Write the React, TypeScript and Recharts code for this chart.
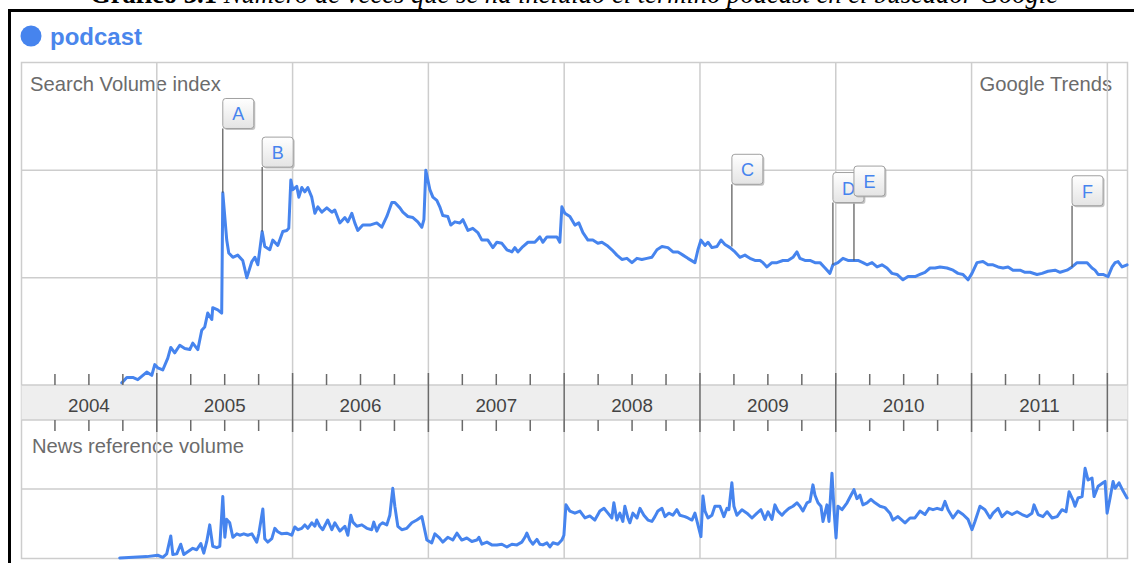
import React from 'react';
import { LineChart, Line, XAxis, YAxis, ReferenceLine, ReferenceDot } from 'recharts';

// ---------- data ----------
const yearLabels = ['2004', '2005', '2006', '2007', '2008', '2009', '2010', '2011'];
const gridYears = [2005, 2006, 2007, 2008, 2009, 2010, 2011, 2012];

const searchDates = [
  2004.742, 2004.779, 2004.823, 2004.860, 2004.926, 2004.963, 2004.985, 2005.007, 2005.044, 2005.081,
  2005.103, 2005.132, 2005.169, 2005.206, 2005.243, 2005.265, 2005.302, 2005.331, 2005.353, 2005.375,
  2005.405, 2005.412, 2005.449, 2005.478, 2005.486, 2005.515, 2005.530, 2005.560, 2005.596, 2005.633,
  2005.663, 2005.700, 2005.722, 2005.744, 2005.776, 2005.795, 2005.832, 2005.854, 2005.891, 2005.928,
  2005.957, 2005.972, 2005.987, 2006.002, 2006.031, 2006.046, 2006.068, 2006.090, 2006.112, 2006.141,
  2006.164, 2006.186, 2006.215, 2006.252, 2006.289, 2006.311, 2006.348, 2006.385, 2006.407, 2006.436,
  2006.458, 2006.480, 2006.517, 2006.569, 2006.620, 2006.657, 2006.694, 2006.731, 2006.753, 2006.790,
  2006.812, 2006.849, 2006.886, 2006.922, 2006.952, 2006.967, 2006.981, 2007.011, 2007.033, 2007.062,
  2007.084, 2007.106, 2007.143, 2007.165, 2007.195, 2007.232, 2007.254, 2007.291, 2007.327, 2007.364,
  2007.394, 2007.438, 2007.475, 2007.504, 2007.541, 2007.578, 2007.615, 2007.637, 2007.659, 2007.696,
  2007.733, 2007.784, 2007.821, 2007.843, 2007.873, 2007.909, 2007.946, 2007.968, 2007.983, 2008.005,
  2008.042, 2008.079, 2008.108, 2008.138, 2008.175, 2008.211, 2008.248, 2008.278, 2008.315, 2008.351,
  2008.388, 2008.425, 2008.462, 2008.499, 2008.536, 2008.572, 2008.609, 2008.646, 2008.683, 2008.720,
  2008.764, 2008.801, 2008.838, 2008.875, 2008.911, 2008.963, 2008.985, 2009.007, 2009.037, 2009.059,
  2009.088, 2009.125, 2009.155, 2009.184, 2009.221, 2009.258, 2009.294, 2009.331, 2009.368, 2009.405,
  2009.442, 2009.464, 2009.493, 2009.530, 2009.567, 2009.611, 2009.648, 2009.685, 2009.714, 2009.736,
  2009.773, 2009.810, 2009.847, 2009.884, 2009.921, 2009.957, 2009.979, 2010.016, 2010.053, 2010.090,
  2010.127, 2010.164, 2010.200, 2010.230, 2010.267, 2010.304, 2010.340, 2010.377, 2010.414, 2010.451,
  2010.495, 2010.532, 2010.584, 2010.620, 2010.657, 2010.694, 2010.731, 2010.768, 2010.819, 2010.864,
  2010.900, 2010.937, 2010.974, 2011.003, 2011.040, 2011.084, 2011.121, 2011.158, 2011.195, 2011.232,
  2011.269, 2011.305, 2011.357, 2011.394, 2011.431, 2011.482, 2011.519, 2011.563, 2011.615, 2011.652,
  2011.703, 2011.740, 2011.777, 2011.814, 2011.851, 2011.887, 2011.909, 2011.932, 2011.968, 2012.005,
  2012.035, 2012.057, 2012.079, 2012.108, 2012.145,
];
const searchValues = [
  0.02, 0.07, 0.07, 0.05, 0.12, 0.09, 0.19, 0.16, 0.14, 0.25,
  0.35, 0.30, 0.37, 0.34, 0.33, 0.39, 0.33, 0.51, 0.54, 0.67,
  0.61, 0.72, 0.70, 0.67, 1.79, 1.35, 1.23, 1.19, 1.21, 1.16,
  1.00, 1.15, 1.19, 1.12, 1.43, 1.29, 1.26, 1.35, 1.30, 1.43,
  1.44, 1.46, 1.91, 1.82, 1.85, 1.75, 1.84, 1.80, 1.84, 1.75,
  1.60, 1.66, 1.61, 1.65, 1.61, 1.63, 1.51, 1.56, 1.52, 1.60,
  1.51, 1.44, 1.49, 1.49, 1.51, 1.47, 1.57, 1.70, 1.70, 1.65,
  1.61, 1.57, 1.56, 1.52, 1.47, 1.54, 2.00, 1.82, 1.75, 1.72,
  1.66, 1.58, 1.57, 1.49, 1.52, 1.51, 1.54, 1.44, 1.46, 1.42,
  1.35, 1.35, 1.28, 1.33, 1.32, 1.26, 1.24, 1.28, 1.24, 1.29,
  1.33, 1.33, 1.38, 1.33, 1.38, 1.38, 1.38, 1.33, 1.66, 1.60,
  1.57, 1.49, 1.51, 1.42, 1.35, 1.35, 1.32, 1.33, 1.30, 1.26,
  1.21, 1.17, 1.18, 1.14, 1.18, 1.17, 1.18, 1.19, 1.26, 1.29,
  1.28, 1.24, 1.24, 1.21, 1.18, 1.14, 1.26, 1.35, 1.30, 1.33,
  1.28, 1.29, 1.35, 1.31, 1.28, 1.24, 1.19, 1.21, 1.18, 1.16,
  1.16, 1.14, 1.10, 1.14, 1.14, 1.16, 1.16, 1.19, 1.24, 1.18,
  1.16, 1.16, 1.14, 1.14, 1.09, 1.04, 1.12, 1.14, 1.18, 1.16,
  1.16, 1.16, 1.14, 1.12, 1.14, 1.10, 1.12, 1.09, 1.04, 1.03,
  0.98, 1.01, 1.01, 1.03, 1.05, 1.09, 1.09, 1.10, 1.09, 1.07,
  1.04, 1.03, 0.98, 1.04, 1.14, 1.15, 1.12, 1.12, 1.10, 1.09,
  1.10, 1.07, 1.07, 1.05, 1.05, 1.03, 1.04, 1.06, 1.07, 1.05,
  1.07, 1.10, 1.14, 1.14, 1.14, 1.09, 1.07, 1.03, 1.03, 1.01,
  1.10, 1.14, 1.15, 1.10, 1.12,
];

const newsDates = [
  2004.727, 2004.926, 2005.007, 2005.044, 2005.073, 2005.103, 2005.118, 2005.147, 2005.176, 2005.199,
  2005.228, 2005.265, 2005.294, 2005.324, 2005.346, 2005.368, 2005.390, 2005.412, 2005.442, 2005.464,
  2005.486, 2005.501, 2005.515, 2005.537, 2005.560, 2005.589, 2005.611, 2005.641, 2005.670, 2005.700,
  2005.736, 2005.751, 2005.781, 2005.795, 2005.817, 2005.847, 2005.869, 2005.891, 2005.920, 2005.957,
  2005.994, 2006.016, 2006.038, 2006.068, 2006.090, 2006.112, 2006.141, 2006.164, 2006.178, 2006.200,
  2006.222, 2006.259, 2006.289, 2006.311, 2006.348, 2006.385, 2006.407, 2006.429, 2006.444, 2006.473,
  2006.510, 2006.547, 2006.583, 2006.598, 2006.620, 2006.642, 2006.664, 2006.694, 2006.716, 2006.738,
  2006.753, 2006.775, 2006.804, 2006.841, 2006.878, 2006.915, 2006.952, 2006.967, 2006.989, 2007.025,
  2007.048, 2007.077, 2007.106, 2007.143, 2007.180, 2007.210, 2007.246, 2007.283, 2007.320, 2007.357,
  2007.372, 2007.394, 2007.431, 2007.467, 2007.504, 2007.541, 2007.578, 2007.615, 2007.652, 2007.688,
  2007.711, 2007.725, 2007.747, 2007.769, 2007.799, 2007.821, 2007.843, 2007.873, 2007.895, 2007.917,
  2007.954, 2007.983, 2007.998, 2008.013, 2008.042, 2008.079, 2008.116, 2008.153, 2008.189, 2008.226,
  2008.263, 2008.293, 2008.322, 2008.351, 2008.366, 2008.388, 2008.410, 2008.432, 2008.447, 2008.469,
  2008.484, 2008.506, 2008.536, 2008.558, 2008.587, 2008.617, 2008.646, 2008.668, 2008.690, 2008.720,
  2008.742, 2008.771, 2008.801, 2008.830, 2008.852, 2008.889, 2008.911, 2008.941, 2008.963, 2008.985,
  2009.007, 2009.022, 2009.037, 2009.059, 2009.088, 2009.110, 2009.147, 2009.176, 2009.199, 2009.213,
  2009.235, 2009.250, 2009.272, 2009.309, 2009.346, 2009.383, 2009.420, 2009.449, 2009.478, 2009.501,
  2009.530, 2009.552, 2009.574, 2009.604, 2009.626, 2009.655, 2009.685, 2009.714, 2009.736, 2009.758,
  2009.788, 2009.810, 2009.832, 2009.847, 2009.869, 2009.891, 2009.906, 2009.935, 2009.950, 2009.972,
  2009.987, 2010.002, 2010.016, 2010.046, 2010.083, 2010.112, 2010.134, 2010.156, 2010.178, 2010.200,
  2010.230, 2010.259, 2010.289, 2010.326, 2010.362, 2010.399, 2010.421, 2010.458, 2010.510, 2010.547,
  2010.583, 2010.620, 2010.657, 2010.687, 2010.716, 2010.746, 2010.782, 2010.804, 2010.827, 2010.863,
  2010.900, 2010.937, 2010.974, 2011.003, 2011.025, 2011.062, 2011.099, 2011.136, 2011.158, 2011.195,
  2011.224, 2011.261, 2011.298, 2011.335, 2011.372, 2011.409, 2011.445, 2011.460, 2011.490, 2011.526,
  2011.556, 2011.593, 2011.630, 2011.666, 2011.696, 2011.718, 2011.747, 2011.762, 2011.784, 2011.814,
  2011.836, 2011.858, 2011.887, 2011.902, 2011.932, 2011.968, 2011.983, 2011.998, 2012.020, 2012.042,
  2012.057, 2012.086, 2012.116, 2012.145,
];
const newsValues = [
  0.00, 0.02, 0.04, 0.01, 0.06, 0.32, 0.05, 0.06, 0.20, 0.05,
  0.09, 0.14, 0.12, 0.21, 0.07, 0.24, 0.48, 0.17, 0.15, 0.17,
  0.89, 0.30, 0.56, 0.51, 0.30, 0.35, 0.33, 0.35, 0.33, 0.35,
  0.23, 0.35, 0.71, 0.28, 0.23, 0.28, 0.43, 0.38, 0.35, 0.36,
  0.33, 0.45, 0.41, 0.43, 0.48, 0.43, 0.51, 0.46, 0.55, 0.46,
  0.41, 0.55, 0.41, 0.51, 0.39, 0.46, 0.33, 0.62, 0.52, 0.46,
  0.48, 0.43, 0.41, 0.52, 0.39, 0.48, 0.51, 0.48, 0.62, 1.01,
  0.75, 0.46, 0.41, 0.43, 0.51, 0.55, 0.60, 0.46, 0.26, 0.22,
  0.35, 0.30, 0.23, 0.30, 0.26, 0.36, 0.26, 0.29, 0.24, 0.26,
  0.30, 0.20, 0.23, 0.19, 0.19, 0.20, 0.16, 0.20, 0.19, 0.23,
  0.30, 0.36, 0.26, 0.20, 0.27, 0.20, 0.19, 0.22, 0.16, 0.22,
  0.20, 0.26, 0.33, 0.77, 0.68, 0.65, 0.68, 0.58, 0.61, 0.55,
  0.68, 0.72, 0.65, 0.58, 0.80, 0.55, 0.65, 0.53, 0.75, 0.58,
  0.51, 0.65, 0.58, 0.72, 0.62, 0.55, 0.53, 0.60, 0.68, 0.72,
  0.60, 0.65, 0.62, 0.70, 0.62, 0.60, 0.58, 0.55, 0.65, 0.48,
  0.31, 0.90, 0.68, 0.58, 0.62, 0.75, 0.75, 0.60, 0.72, 0.70,
  1.09, 0.75, 0.62, 0.70, 0.65, 0.58, 0.65, 0.70, 0.56, 0.67,
  0.56, 0.77, 0.68, 0.62, 0.67, 0.72, 0.75, 0.80, 0.75, 0.68,
  0.80, 0.82, 1.06, 0.91, 0.80, 0.75, 0.53, 0.77, 0.53, 1.23,
  0.70, 0.29, 0.75, 0.70, 0.80, 0.91, 0.99, 0.86, 0.91, 0.77,
  0.80, 0.85, 0.80, 0.75, 0.73, 0.65, 0.55, 0.60, 0.51, 0.58,
  0.58, 0.68, 0.63, 0.72, 0.70, 0.72, 0.70, 0.82, 0.70, 0.58,
  0.68, 0.63, 0.56, 0.41, 0.53, 0.75, 0.70, 0.58, 0.65, 0.72,
  0.60, 0.67, 0.63, 0.67, 0.63, 0.60, 0.65, 0.77, 0.63, 0.60,
  0.67, 0.58, 0.60, 0.70, 0.67, 0.96, 0.84, 0.75, 0.87, 0.89,
  1.30, 1.13, 1.16, 0.89, 1.04, 1.09, 1.11, 0.65, 0.87, 1.11,
  1.01, 1.09, 0.97, 0.87,
];

const annotationLetters = ['A', 'B', 'C', 'D', 'E', 'F'];
const annotationDates = [2005.486, 2005.776, 2009.235, 2009.979, 2010.134, 2011.740];
const annotationPointValues = [1.79, 1.43, 1.29, 1.12, 1.16, 1.10];
const annotationFlagValues = [2.39, 2.03, 1.87, 1.70, 1.76, 1.67];

// ---------- style ----------
const BLUE = '#4684ee';
const GRID = '#cdcdcd';
const SANS = "'Liberation Sans', Arial, Helvetica, sans-serif";
const X_DOMAIN: [number, number] = [2004, 2012.152];

const axisTicks: number[] = yearLabels.flatMap((y) => {
  const n = Number(y);
  return [n + 0.25, n + 0.5, n + 0.75, n + 1];
});

function YearTick(props: any) {
  const { x, y, payload } = props;
  const v: number = payload.value;
  const yr = Math.floor(v + 1e-6);
  const q = Math.round((v - yr) * 4);
  const tickColor = '#6a6a6a';
  if (q === 0) {
    return (
      <line x1={x} x2={x} y1={y - 12} y2={y + 47} stroke={tickColor} strokeWidth={1.5} />
    );
  }
  const label = yearLabels[yr - 2004];
  return (
    <g>
      <line x1={x} x2={x} y1={y - 11} y2={y} stroke={tickColor} strokeWidth={1.5} />
      <line x1={x} x2={x} y1={y + 35} y2={y + 46} stroke={tickColor} strokeWidth={1.5} />
      {q === 2 && label ? (
        <text x={x} y={y + 27} textAnchor="middle" fontFamily={SANS} fontSize={18.8} fill="#444">
          {label}
        </text>
      ) : null}
    </g>
  );
}

function ZeroTick(props: any) {
  const { x, y, payload } = props;
  return (
    <text x={x + 11.5} y={y - 5} fontFamily={SANS} fontSize={18.5} fill="#555">
      {String(payload.value)}
    </text>
  );
}

function makeFlag(letter: string) {
  return (props: any) => {
    const { cx, cy } = props;
    if (cx == null || cy == null) return <g />;
    return (
      <g>
        <rect x={cx + 1.5} y={cy - 28.5} width={31} height={30} rx={3} fill="#b0b0b0" opacity={0.75} />
        <rect x={cx} y={cy - 30} width={31} height={30} rx={3} fill="url(#flagGrad)" stroke="#a0a0a0" strokeWidth={1} />
        <text x={cx + 15.5} y={cy - 8} textAnchor="middle" fontFamily={SANS} fontSize={18} fill={BLUE}>
          {letter}
        </text>
      </g>
    );
  };
}

export default function App() {
  const searchData = searchDates.map((d, i) => ({ date: d, value: searchValues[i] }));
  const newsData = newsDates.map((d, i) => ({ date: d, value: newsValues[i] }));

  return (
    <div style={{ position: 'absolute', left: 0, top: 0, width: 1134, height: 563, overflow: 'hidden', background: '#fff' }}>
      {/* decoration: title, frame, legend, panel, band, captions */}
      <svg width={1134} height={563} style={{ position: 'absolute', left: 0, top: 0 }}>
        <text x={574} y={3} textAnchor="middle" fontFamily="'Liberation Serif', 'Times New Roman', serif" fontSize={26.6} fill="#000">
          <tspan fontWeight="bold">Gráfico 3.1 </tspan>
          <tspan fontStyle="italic">Número de veces que se ha incluido el término podcast en el buscador Google</tspan>
        </text>
        <rect x={8} y={9} width={1126} height={3} fill="#000" />
        <rect x={8} y={9} width={3} height={554} fill="#000" />

        <circle cx={31} cy={36} r={10.5} fill={BLUE} />
        <text x={50} y={45} fontFamily={SANS} fontWeight="bold" fontSize={24} fill="#4a86ec">podcast</text>

        <rect x={21.5} y={62.5} width={1106} height={496} fill="#fff" stroke={GRID} strokeWidth={1.5} />
        <rect x={21.5} y={385} width={1106} height={35} fill="#eeeeee" />
        <line x1={21.5} x2={1127.5} y1={385} y2={385} stroke={GRID} strokeWidth={1.5} />
        <line x1={21.5} x2={1127.5} y1={420} y2={420} stroke={GRID} strokeWidth={1.5} />

        <text x={30} y={90.5} fontFamily={SANS} fontSize={20.2} fill="#6b6b6b">Search Volume index</text>
        <text x={1112} y={90.5} textAnchor="end" fontFamily={SANS} fontSize={20.2} fill="#6b6b6b">Google Trends</text>
        <text x={32} y={453} fontFamily={SANS} fontSize={20.2} fill="#6b6b6b">News reference volume</text>
      </svg>

      {/* bottom chart: news reference volume */}
      <div style={{ position: 'absolute', left: 0, top: 0 }}>
        <LineChart width={1134} height={563} data={newsData} margin={{ top: 420, right: 6, bottom: 5, left: 21 }}>
          <XAxis dataKey="date" type="number" domain={X_DOMAIN} hide />
          <YAxis type="number" domain={[0, 2]} ticks={[0]} width={0} axisLine={false} tickLine={false} tickSize={0} tickMargin={0} tick={(p: any) => <ZeroTick {...p} />} />
          <ReferenceLine y={1} stroke={GRID} strokeWidth={1.5} />
          {gridYears.map((yr) => (
            <ReferenceLine key={`nx${yr}`} x={yr} stroke={GRID} strokeWidth={1.5} />
          ))}
          <Line type="linear" dataKey="value" stroke={BLUE} strokeWidth={3} dot={false} isAnimationActive={false} strokeLinejoin="round" strokeLinecap="round" />
        </LineChart>
      </div>

      {/* top chart: search volume index */}
      <div style={{ position: 'absolute', left: 0, top: 0 }}>
        <LineChart width={1134} height={432} data={searchData} margin={{ top: 63, right: 6, bottom: 0, left: 21 }}>
          <defs>
            <linearGradient id="flagGrad" x1="0" y1="0" x2="0" y2="1">
              <stop offset="0%" stopColor="#ffffff" />
              <stop offset="100%" stopColor="#e4e4e4" />
            </linearGradient>
          </defs>
          <XAxis
            dataKey="date"
            type="number"
            domain={X_DOMAIN}
            ticks={axisTicks}
            interval={0}
            height={47}
            axisLine={false}
            tickLine={false}
            tickSize={0}
            tickMargin={0}
            tick={(p: any) => <YearTick {...p} />}
          />
          <YAxis type="number" domain={[0, 3]} ticks={[0]} width={0} axisLine={false} tickLine={false} tickSize={0} tickMargin={0} tick={(p: any) => <ZeroTick {...p} />} />
          <ReferenceLine y={1} stroke={GRID} strokeWidth={1.5} />
          <ReferenceLine y={2} stroke={GRID} strokeWidth={1.5} />
          {gridYears.map((yr) => (
            <ReferenceLine key={`sx${yr}`} x={yr} stroke={GRID} strokeWidth={1.5} />
          ))}
          <Line type="linear" dataKey="value" stroke={BLUE} strokeWidth={3} dot={false} isAnimationActive={false} strokeLinejoin="round" strokeLinecap="round" />
          {annotationLetters.map((letter, i) => (
            <ReferenceLine
              key={`al${letter}`}
              segment={[
                { x: annotationDates[i], y: annotationPointValues[i] },
                { x: annotationDates[i], y: annotationFlagValues[i] },
              ]}
              stroke="#555"
              strokeWidth={1.2}
            />
          ))}
          {annotationLetters.map((letter, i) => (
            <ReferenceDot
              key={`ad${letter}`}
              x={annotationDates[i]}
              y={annotationFlagValues[i]}
              r={1}
              shape={makeFlag(letter)}
            />
          ))}
        </LineChart>
      </div>
    </div>
  );
}
